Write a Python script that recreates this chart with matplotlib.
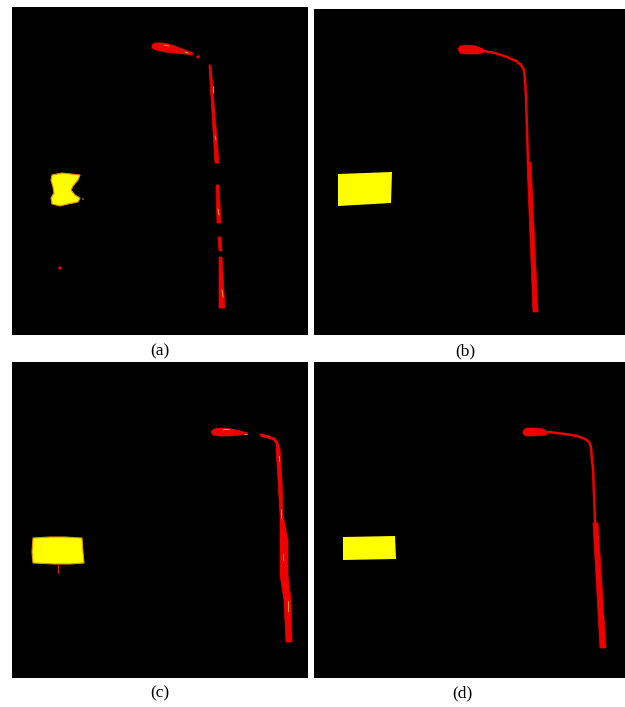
import matplotlib.pyplot as plt
from matplotlib.patches import Polygon, Circle

# panel boxes in image pixels: (left, top, right, bottom)
panel_boxes = {
    "a": (12, 7, 308, 335),
    "b": (314, 9, 625, 335),
    "c": (12, 362, 308, 678),
    "d": (314, 362, 625, 678),
}
panel_labels = {"a": "(a)", "b": "(b)", "c": "(c)", "d": "(d)"}
label_pos = {"a": (160, 351), "b": (465, 351), "c": (160, 693), "d": (462, 693)}

# ---- (a) noisy prediction ----
head_a = [(152, 45), (155, 43), (163, 43), (172, 45), (180, 48), (188, 51),
          (193, 53), (192, 55), (185, 54), (175, 53), (165, 52), (156, 50), (152, 48)]
pole_a = [
    [(209, 65), (211, 65), (219, 163), (215, 163)],
    [(216, 185), (219, 185), (221, 223), (217, 223)],
    [(218, 237), (221, 237), (222, 251), (219, 251)],
    [(219, 257), (222, 257), (225, 308), (219, 308)],
]
sign_a = [(52, 175), (62, 173), (80, 175), (78, 180), (73, 186), (71, 190), (75, 195),
          (80, 198), (78, 202), (68, 204), (60, 206), (52, 204), (51, 198), (54, 193),
          (53, 187), (51, 180)]
dots_a = [(198, 57, 1.6, "red"), (60, 268, 1.6, "red"), (83, 199, 0.8, "#c8a000")]
specks_a = [[(164, 45), (169, 46)], [(185, 52), (188, 53)], [(213, 86), (213, 92)],
            [(215, 136), (216, 140)], [(218, 209), (219, 215)], [(222, 290), (223, 297)]]

# ---- (b) ground truth ----
head_b = [(458, 49), (460, 46), (466, 45), (476, 46), (483, 49), (484, 52),
          (478, 54), (466, 54), (460, 53)]
arm_b = [(483, 51), (495, 53), (507, 57), (516, 61), (521, 65), (524, 70),
         (525, 80), (526, 97), (528, 162)]
pole_b = [(527, 162), (531, 162), (538, 312), (533, 312)]
sign_b = [(338, 174), (392, 172), (391, 203), (338, 206)]

# ---- (c) noisy prediction ----
head_c = [(211, 432), (214, 429), (222, 428), (232, 429), (240, 431), (248, 433),
          (240, 435), (230, 436), (220, 436), (213, 435)]
arm_c = [(261, 435), (268, 437), (274, 439), (277, 443), (278, 448)]
pole_c = [(276, 448), (278, 480), (280, 515), (280, 540), (280, 575), (284, 600),
          (286, 642), (292, 642), (291, 600), (288, 575), (288, 540), (283, 515),
          (282, 480), (280, 448)]
sign_c = [(33, 538), (50, 537), (65, 537), (82, 538), (83, 552), (84, 563),
          (70, 564), (55, 564), (33, 563), (32, 552)]
stem_c = [(58, 564), (58, 573)]
specks_c = [[(223, 429), (229, 429)], [(244, 434), (247, 434)], [(281, 509), (281, 518)],
            [(283, 554), (283, 560)], [(288, 601), (288, 611)], [(279, 456), (279, 461)]]

# ---- (d) ground truth ----
head_d = [(523, 431), (526, 428), (534, 428), (543, 429), (548, 432), (546, 435),
          (535, 436), (526, 436), (523, 434)]
arm_d = [(548, 432), (565, 434), (577, 436), (585, 439), (589, 442), (591, 447),
         (592, 460), (593, 468), (595, 523)]
pole_d = [(593, 523), (598, 523), (606, 648), (600, 648)]
sign_d = [(343, 537), (395, 536), (396, 559), (343, 560)]

RED = "#ee0000"
YEL = "#ffff00"
SPECK = "#e8a830"
W, H = 625, 707

fig = plt.figure(figsize=(W / 100, H / 100), dpi=100)
axes = {}
for key, (x0, y0, x1, y1) in panel_boxes.items():
    ax = fig.add_axes([x0 / W, 1 - y1 / H, (x1 - x0) / W, (y1 - y0) / H])
    ax.set_facecolor("black")
    ax.set_xlim(x0, x1)
    ax.set_ylim(y1, y0)
    ax.set_xticks([])
    ax.set_yticks([])
    for s in ax.spines.values():
        s.set_visible(False)
    axes[key] = ax
    lx, ly = label_pos[key]
    fig.text(lx / W, 1 - ly / H, panel_labels[key], ha="center", va="center",
             family="Liberation Serif", fontsize=12.5)

px = 0.72  # one pixel in points


def line(ax, pts, width, color=RED):
    xs, ys = zip(*pts)
    ax.plot(xs, ys, color=color, lw=width * px, solid_capstyle="round",
            solid_joinstyle="round")


# (a)
ax = axes["a"]
ax.add_patch(Polygon(head_a, closed=True, fc=RED, ec=RED, lw=0.5))
for seg in pole_a:
    ax.add_patch(Polygon(seg, closed=True, fc=RED, ec=RED, lw=0.5))
ax.add_patch(Polygon(sign_a, closed=True, fc=YEL, ec="#e09000", lw=0.8))
for x, y, r, c in dots_a:
    ax.add_patch(Circle((x, y), r, fc=c, ec="none"))
for sp in specks_a:
    line(ax, sp, 0.9, SPECK)

# (b)
ax = axes["b"]
ax.add_patch(Polygon(head_b, closed=True, fc=RED, ec=RED, lw=0.5))
line(ax, arm_b, 2.5)
ax.add_patch(Polygon(pole_b, closed=True, fc=RED, ec=RED, lw=0.5))
ax.add_patch(Polygon(sign_b, closed=True, fc=YEL, ec="none"))

# (c)
ax = axes["c"]
ax.add_patch(Polygon(head_c, closed=True, fc=RED, ec=RED, lw=0.5))
line(ax, arm_c, 3)
ax.add_patch(Polygon(pole_c, closed=True, fc=RED, ec=RED, lw=0.5))
ax.add_patch(Polygon(sign_c, closed=True, fc=YEL, ec="#e09000", lw=0.8))
line(ax, stem_c, 1.2, "#cc2200")
for sp in specks_c:
    line(ax, sp, 0.9, SPECK)

# (d)
ax = axes["d"]
ax.add_patch(Polygon(head_d, closed=True, fc=RED, ec=RED, lw=0.5))
line(ax, arm_d, 2.5)
ax.add_patch(Polygon(pole_d, closed=True, fc=RED, ec=RED, lw=0.5))
ax.add_patch(Polygon(sign_d, closed=True, fc=YEL, ec="none"))

fig.savefig("out.png", dpi=100, facecolor="white")
